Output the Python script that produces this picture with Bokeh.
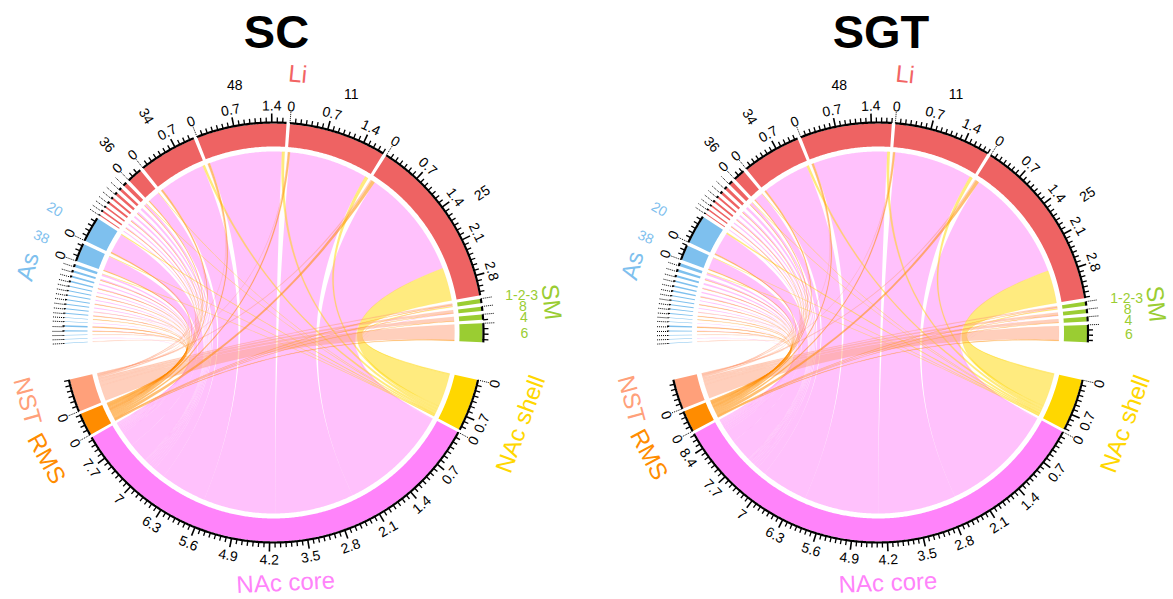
import numpy as np
from bokeh.plotting import figure
from bokeh.models import Range1d
from bokeh.embed import file_html
from bokeh.resources import INLINE
from bokeh.core.properties import value

# ---------------- data ----------------
titles = ["SC", "SGT"]
target_groups = ["NAc shell", "NAc core", "RMS", "NST"]
as_labels = [""] * 18 + ["38", "20"]
li_labels = [""] * 8 + ["36", "34", "48", "11", "25"]
sm_labels = ["1-2-3", "8", "4", "6"]

# SC flows (source sector -> target), in sector units
sc_as_core = [0, 0.01, 0, 0.01, 0.01, 0.01, 0, 0.01, 0.01, 0.02, 0.01, 0.02, 0.01, 0.02, 0.02, 0.03, 0.03, 0.04, 0.31, 0.42]
sc_as_shell = [0, 0, 0, 0, 0, 0, 0, 0, 0, 0, 0, 0, 0, 0, 0, 0, 0, 0.01, 0.01, 0.02]
sc_as_nst = [0.01, 0, 0.01, 0, 0, 0, 0, 0, 0.01, 0, 0, 0, 0, 0, 0, 0, 0, 0, 0, 0.01]
sc_as_rms = [0, 0, 0, 0.01, 0.02, 0, 0.01, 0.01, 0, 0, 0.01, 0, 0.01, 0, 0.01, 0, 0.01, 0, 0.02, 0.02]
sc_li_core = [0.02, 0.02, 0.03, 0.03, 0.04, 0.04, 0.05, 0.05, 0.25, 0.99, 1.56, 1.69, 2.36]
sc_li_shell = [0, 0, 0, 0, 0, 0, 0, 0.01, 0.01, 0.05, 0.06, 0.07, 0.71]
sc_li_nst = [0, 0, 0, 0, 0, 0, 0, 0, 0, 0.01, 0.01, 0.01, 0.03]
sc_li_rms = [0, 0.01, 0, 0.01, 0, 0.01, 0, 0.01, 0.02, 0.03, 0.04, 0.04, 0.07]
sc_sm_core = [0.02, 0.01, 0, 0]
sc_sm_shell = [0.02, 0, 0, 0]
sc_sm_nst = [0.03, 0.06, 0.09, 0.33]
sc_sm_rms = [0.01, 0.01, 0.01, 0.02]

# SGT flows
sgt_as_core = [0, 0.01, 0, 0.01, 0.01, 0.01, 0, 0.01, 0.01, 0.02, 0.01, 0.02, 0.02, 0.03, 0.02, 0.04, 0.04, 0.05, 0.27, 0.51]
sgt_as_shell = [0, 0, 0, 0, 0, 0, 0, 0, 0, 0, 0, 0, 0, 0, 0, 0, 0, 0.01, 0.01, 0.03]
sgt_as_nst = [0.01, 0, 0.01, 0, 0, 0, 0, 0, 0.01, 0, 0, 0, 0, 0, 0, 0, 0, 0, 0, 0.01]
sgt_as_rms = [0, 0, 0, 0.01, 0.02, 0, 0.01, 0.01, 0, 0, 0.01, 0, 0.01, 0, 0.01, 0, 0.01, 0, 0.02, 0.02]
sgt_li_core = [0.02, 0.02, 0.03, 0.03, 0.04, 0.04, 0.06, 0.06, 0.20, 1.07, 1.69, 1.78, 2.57]
sgt_li_shell = [0, 0, 0, 0, 0, 0, 0, 0.01, 0.01, 0.05, 0.06, 0.07, 0.75]
sgt_li_nst = [0, 0, 0, 0, 0, 0, 0, 0, 0, 0.01, 0.01, 0.01, 0.03]
sgt_li_rms = [0, 0.01, 0, 0.01, 0, 0.01, 0, 0.01, 0.02, 0.03, 0.04, 0.04, 0.07]
sgt_sm_core = [0.02, 0.01, 0, 0]
sgt_sm_shell = [0.02, 0, 0, 0]
sgt_sm_nst = [0.03, 0.06, 0.08, 0.32]
sgt_sm_rms = [0.01, 0.01, 0.01, 0.02]

charts = [
    {"As": (sc_as_core, sc_as_shell, sc_as_nst, sc_as_rms),
     "Li": (sc_li_core, sc_li_shell, sc_li_nst, sc_li_rms),
     "SM": (sc_sm_core, sc_sm_shell, sc_sm_nst, sc_sm_rms)},
    {"As": (sgt_as_core, sgt_as_shell, sgt_as_nst, sgt_as_rms),
     "Li": (sgt_li_core, sgt_li_shell, sgt_li_nst, sgt_li_rms),
     "SM": (sgt_sm_core, sgt_sm_shell, sgt_sm_nst, sgt_sm_rms)},
]

# ---------------- style ----------------
FONT = "Liberation Sans"
sector_colors = {"As": "#7EC0EE", "Li": "#EE6363", "SM": "#9ACD32", "NAc shell": "#FFD700",
                 "NAc core": "#FF83FA", "RMS": "#FF8C00", "NST": "#FFA07A"}
chord_alpha = {"NAc core": 0.5, "NAc shell": 0.5, "NST": 0.5, "RMS": 0.55}
chord_edge = {"NAc core": 0, "NAc shell": 0.4, "NST": 0.3, "RMS": 0.4}
group_text_colors = dict(sector_colors, Li="#F26464")
sector_label_colors = {"As": "#7EC0EE", "Li": "#000000", "SM": "#9ACD32"}
sector_label_sizes = {"As": "14px", "Li": "14px", "SM": "14px"}
horizontal_labels = {"48", "11", "1-2-3", "8", "4", "6"}
group_label_shift = {"As": 0, "Li": 6.5, "SM": 3, "NAc shell": 0, "NAc core": 2, "RMS": 3, "NST": -2}
group_label_r = {"As": 255, "Li": 260, "SM": 280, "NAc shell": 263, "NAc core": 250, "RMS": 259, "NST": 255}
R_CHORD, R_IN, R_OUT, R_AXIS = 181, 186, 209, 210
SRC_GAP, TGT_GAP, GAP_AFTER_SM, GAP_AFTER_NST, START_DEG = 0.95, 0.8, 10.4, 10.0, 183.0

W, H = 1172, 598
centers = [(273, 266), (877.5, 266)]
TITLE_Y = 567


def arc(a1, a2, r):
    m = max(2, int(abs(a1 - a2) / 0.4) + 2)
    t = np.radians(np.linspace(a1, a2, m))
    return r * np.cos(t), r * np.sin(t)


def bez(x0, y0, x2, y2, m=48):
    t = np.linspace(0, 1, m)
    return (1 - t) ** 2 * x0 + t ** 2 * x2, (1 - t) ** 2 * y0 + t ** 2 * y2


def rot_bend(deg):
    d = (deg + 180) % 360 - 180
    return d - 90 if d > 0 else d + 90


def rot_radial(deg):
    d = (deg + 180) % 360 - 180
    return d if np.cos(np.radians(d)) >= 0 else d - 180


p = figure(width=W, height=H, x_range=Range1d(0, W), y_range=Range1d(0, H),
           output_backend="svg", toolbar_location=None, min_border=0)
p.axis.visible = False
p.grid.visible = False
p.outline_line_color = None
p.background_fill_color = "white"
p.border_fill_color = "white"


def draw(cx, cy, title, flows):
    sectors = []
    for g, labels in (("As", as_labels), ("Li", li_labels), ("SM", sm_labels)):
        core, shell, nst, rms = flows[g]
        for i, lab in enumerate(labels):
            sectors.append(dict(group=g, label=lab, out=[shell[i], core[i], rms[i], nst[i]]))
    n_src = len(sectors)
    for tg in target_groups:
        sectors.append(dict(group=tg, label="", out=None))
    n = len(sectors)
    links = []
    for si in range(n_src):
        for k, v in enumerate(sectors[si]["out"]):
            if v > 0:
                links.append((si, n_src + k, v))
    width = np.zeros(n)
    for s, t, v in links:
        width[s] += v
        width[t] += v
    gaps = np.full(n, SRC_GAP)
    gaps[n_src:] = TGT_GAP
    gaps[n_src - 1] = GAP_AFTER_SM
    gaps[n - 1] = GAP_AFTER_NST
    dpu = (360.0 - gaps.sum()) / width.sum()
    start = np.zeros(n)
    stop = np.zeros(n)
    th = START_DEG
    for i in range(n):
        start[i] = th
        stop[i] = th - width[i] * dpu
        th = stop[i] - gaps[i]

    seg = {}
    for i in range(n):
        ks = [k for k, l in enumerate(links) if i in (l[0], l[1])]
        ks.sort(key=lambda k: -(links[k][1] if links[k][0] == i else links[k][0]))
        th = start[i]
        for k in ks:
            a = th - links[k][2] * dpu
            seg[(k, i)] = (th, a)
            th = a

    # chords
    for tg in ["NAc core", "NAc shell", "NST", "RMS"]:
        xs, ys = [], []
        for k, (s, t, v) in enumerate(links):
            if sectors[t]["group"] != tg:
                continue
            a1, a2 = seg[(k, s)]
            b1, b2 = seg[(k, t)]
            ax, ay = arc(a1, a2, R_CHORD)
            bx, by = arc(b1, b2, R_CHORD)
            c1x, c1y = bez(ax[-1], ay[-1], bx[0], by[0])
            c2x, c2y = bez(bx[-1], by[-1], ax[0], ay[0])
            xs.append(list(cx + np.concatenate([ax, c1x, bx, c2x])))
            ys.append(list(cy + np.concatenate([ay, c1y, by, c2y])))
        if chord_edge[tg] > 0:
            p.patches(xs, ys, fill_color=sector_colors[tg], fill_alpha=chord_alpha[tg],
                      line_color=sector_colors[tg], line_alpha=0.25, line_width=chord_edge[tg])
        else:
            p.patches(xs, ys, fill_color=sector_colors[tg], fill_alpha=chord_alpha[tg], line_color=None)

    # sector bands, axis, ticks
    bx_, by_, bc = [], [], []
    axx, axy = [], []
    tx, ty, mx, my, dx_, dy_ = [], [], [], [], [], []
    tl_x, tl_y, tl_t, tl_a = [], [], [], []
    for i, sec in enumerate(sectors):
        ox, oy = arc(start[i], stop[i], R_OUT)
        ix, iy = arc(stop[i], start[i], R_IN)
        bx_.append(list(cx + np.concatenate([ox, ix])))
        by_.append(list(cy + np.concatenate([oy, iy])))
        bc.append(sector_colors[sec["group"]])
        lx, ly = arc(start[i], stop[i], R_AXIS)
        axx.append(list(cx + lx))
        axy.append(list(cy + ly))
        nt = int(np.floor(width[i] / 0.1 + 1e-6))
        show = sec["group"] != "SM" and width[i] >= 0.22
        for j in range(nt + 1):
            ang = np.radians(start[i] - j * 0.1 * dpu)
            c, s_ = np.cos(ang), np.sin(ang)
            if j == 0:
                dx_.append([cx + R_AXIS * c, cx + (R_AXIS + 12) * c])
                dy_.append([cy + R_AXIS * s_, cy + (R_AXIS + 12) * s_])
            elif j % 7 == 0:
                mx.append([cx + R_AXIS * c, cx + (R_AXIS + 9) * c])
                my.append([cy + R_AXIS * s_, cy + (R_AXIS + 9) * s_])
            else:
                tx.append([cx + R_AXIS * c, cx + (R_AXIS + 5) * c])
                ty.append([cy + R_AXIS * s_, cy + (R_AXIS + 5) * s_])
            if show and j % 7 == 0:
                tl_x.append(cx + 227 * c)
                tl_y.append(cy + 227 * s_)
                tl_t.append("%g" % round(j * 0.1, 1))
                tl_a.append(np.radians(rot_bend(np.degrees(ang))))
    p.patches(bx_, by_, fill_color=bc, line_color=None)
    p.multi_line(axx, axy, line_color="black", line_width=2.2)
    p.multi_line(tx, ty, line_color="black", line_width=1.3)
    p.multi_line(mx, my, line_color="black", line_width=1.6)
    p.multi_line(dx_, dy_, line_color="black", line_width=1, line_dash="1 1")
    p.text(x=tl_x, y=tl_y, text=tl_t, angle=tl_a, text_color="black",
           text_font=value(FONT), text_font_size=value("14px"),
           text_align="center", text_baseline="middle")

    # sector labels
    sx, sy, st, sa, sc_, hz, sz = [], [], [], [], [], [], []
    for i, sec in enumerate(sectors):
        if not sec["label"]:
            continue
        mid = (start[i] + stop[i]) / 2
        r = 251
        sx.append(cx + r * np.cos(np.radians(mid)))
        sy.append(cy + r * np.sin(np.radians(mid)))
        st.append(sec["label"])
        is_h = sec["label"] in horizontal_labels
        hz.append(is_h and sec["group"] == "SM")
        sa.append(0.0 if is_h else np.radians(rot_radial(mid)))
        sc_.append(sector_label_colors[sec["group"]])
        sz.append(sector_label_sizes[sec["group"]])
    # keep stacked horizontal labels from overlapping (top to bottom)
    prev = None
    for k in range(len(st)):
        if hz[k]:
            if prev is not None and sy[k] > sy[prev] - 11:
                sy[k] = sy[prev] - 11
            prev = k
    p.text(x=sx, y=sy, text=st, angle=sa, text_color=sc_, text_font_size=sz,
           text_font=value(FONT), text_align="center", text_baseline="middle")

    # group labels
    gx, gy, gt, ga, gc = [], [], [], [], []
    for g in ["As", "Li", "SM"] + target_groups:
        idx = [i for i, s in enumerate(sectors) if s["group"] == g]
        mid = (start[idx[0]] + stop[idx[-1]]) / 2 + group_label_shift[g]
        r = group_label_r[g]
        gx.append(cx + r * np.cos(np.radians(mid)))
        gy.append(cy + r * np.sin(np.radians(mid)))
        gt.append(g)
        ga.append(np.radians(rot_bend(mid)))
        gc.append(group_text_colors[g])
    p.text(x=gx, y=gy, text=gt, angle=ga, text_color=gc,
           text_font=value(FONT), text_font_size=value("24px"),
           text_align="center", text_baseline="middle")

    p.text(x=[cx + 3], y=[TITLE_Y], text=[title], text_color="black",
           text_font=value(FONT), text_font_size=value("47px"), text_font_style="bold",
           text_align="center", text_baseline="middle")


for (cx, cy), title, flows in zip(centers, titles, charts):
    draw(cx, cy, title, flows)

open("out.html", "w").write(file_html(p, INLINE))
